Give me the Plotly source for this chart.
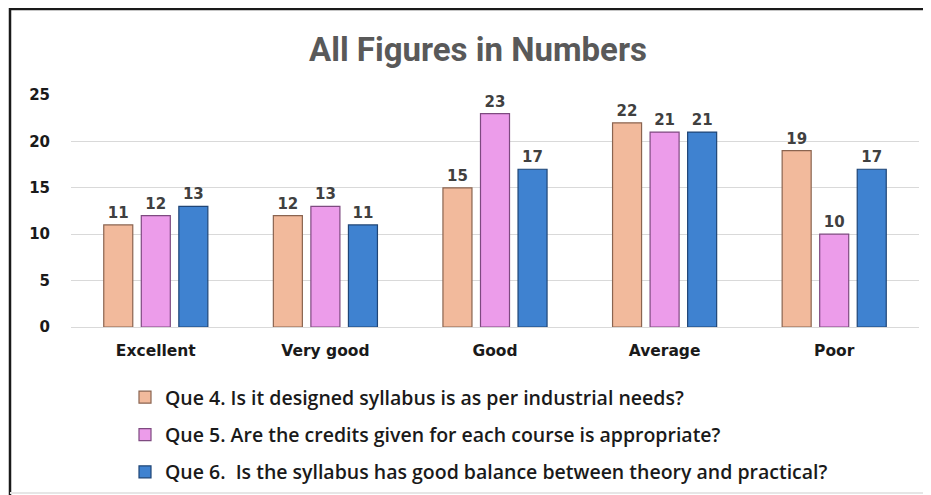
import plotly.graph_objects as go

categories = ["Excellent", "Very good", "Good", "Average", "Poor"]
que4 = [11, 12, 15, 22, 19]
que5 = [12, 13, 23, 21, 10]
que6 = [13, 11, 17, 21, 17]
series_names = [
    "Que 4. Is it designed syllabus is as per industrial needs?",
    "Que 5. Are the credits given for each course is appropriate?",
    "Que 6.  Is the syllabus has good balance between theory and practical?",
]
y_ticks = [0, 5, 10, 15, 20, 25]

colors = ["#F2BA9C", "#EC9CEA", "#3F82D0"]
edges = ["#8A6450", "#7E4A80", "#1F4576"]

# the page body has an 8px margin; compensate so the figure lands where the reference is
O = 8
W, H = 931 - O, 495 - O
ml, mr, mt, mb = 71 - O, 12, 95 - O, 168

fig = go.Figure()
for name, vals, c, e in zip(series_names, [que4, que5, que6], colors, edges):
    fig.add_trace(go.Bar(
        x=categories, y=vals, name=name, legendgroup=name,
        marker=dict(color=c, line=dict(color=e, width=1.2)),
        text=vals, textposition="outside", cliponaxis=False,
        textfont=dict(family="DejaVu Sans, sans-serif", size=15, color="#404040", weight="bold"),
    ))

pw = W - ml - mr
ph = H - mt - mb
def px(x):
    return (x - O - ml) / pw
def py(y):
    return (H - mb - (y - O)) / ph

frame = dict(xref="paper", yref="paper", layer="below")
fig.add_shape(type="line", x0=px(9), x1=px(940), y0=py(9), y1=py(9),
              line=dict(color="#1a1a1a", width=2.5), **frame)
fig.add_shape(type="line", x0=px(10), x1=px(10), y0=py(8), y1=py(500),
              line=dict(color="#1a1a1a", width=2.5), **frame)
fig.add_shape(type="line", x0=px(10), x1=px(940), y0=py(493), y1=py(493),
              line=dict(color="#E6E6E6", width=2), **frame)

fig.update_layout(
    width=W, height=H,
    margin=dict(l=ml, r=mr, t=mt, b=mb, autoexpand=False),
    paper_bgcolor="white", plot_bgcolor="white",
    barmode="group", bargap=0.336, bargroupgap=0.227,
    title=dict(text="All Figures in Numbers", x=px(478), xanchor="center", xref="paper",
               y=1 - (49 - O) / H, yanchor="middle",
               font=dict(family="Roboto, sans-serif", size=33, color="#595959", weight="bold")),
    xaxis=dict(showgrid=False, showline=True, linecolor="#D9D9D9", linewidth=1,
               tickfont=dict(family="DejaVu Sans, sans-serif", size=15.5, color="#1a1a1a", weight="bold"),
               ticklabelstandoff=9),
    yaxis=dict(range=[0, 25], tickvals=y_ticks, showgrid=True, gridcolor="#D9D9D9", gridwidth=1,
               zeroline=False,
               tickfont=dict(family="DejaVu Sans, sans-serif", size=15, color="#1a1a1a", weight="bold"),
               ticklabelstandoff=20),
    showlegend=True,
    legend=dict(orientation="v", x=px(125), y=py(378), xanchor="left", yanchor="top",
                tracegroupgap=9, itemwidth=30,
                font=dict(family="Open Sans, sans-serif", size=19.5, color="#1a1a1a", weight=600),
                bgcolor="rgba(0,0,0,0)"),
)

fig.write_html("out.html")
